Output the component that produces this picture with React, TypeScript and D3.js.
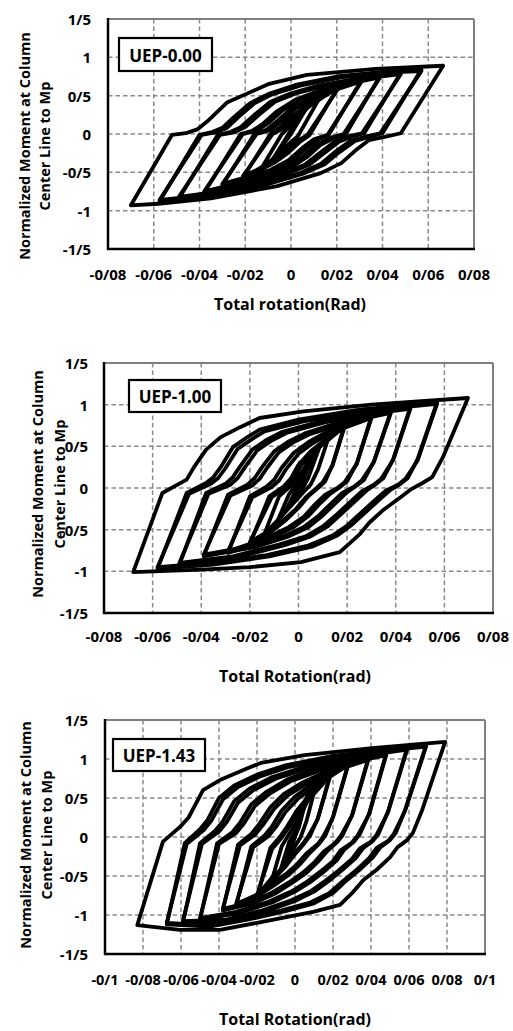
import React from 'react';
import * as d3 from 'd3';

type Pt = [number, number];

// ---------- tick values & labels ----------
const Y_TICKS = [-1.5, -1, -0.5, 0, 0.5, 1, 1.5];
const Y_LABELS = ['-1/5', '-1', '-0/5', '0', '0/5', '1', '1/5'];
const X_TICKS_A = [-0.08, -0.06, -0.04, -0.02, 0, 0.02, 0.04, 0.06, 0.08];
const X_LABELS_A = ['-0/08', '-0/06', '-0/04', '-0/02', '0', '0/02', '0/04', '0/06', '0/08'];
const X_TICKS_B = [-0.1, -0.08, -0.06, -0.04, -0.02, 0, 0.02, 0.04, 0.06, 0.08, 0.1];
const X_LABELS_B = ['-0/1', '-0/08', '-0/06', '-0/04', '-0/02', '0', '0/02', '0/04', '0/06', '0/08', '0/1'];

const SPECIMENS = ['UEP-0.00', 'UEP-1.00', 'UEP-1.43'];
const X_TITLES = ['Total rotation(Rad)', 'Total Rotation(rad)', 'Total Rotation(rad)'];
const Y_TITLE_LINES = ['Normalized Moment at Column', 'Center Line to Mp'];

// ---------- hysteresis loops (rotation, normalized moment) ----------
// Panel 1: UEP-0.00
const P1_L1: Pt[] = [[0.0665,0.89],[0.048,0.01],[0.042,-0.03],[0.034,-0.08],[0.028,-0.22],[0.022,-0.38],[0.013,-0.51],[-0.006,-0.68],[-0.035,-0.84],[-0.058,-0.91],[-0.070,-0.93],[-0.052,-0.01],[-0.046,0.01],[-0.041,0.06],[-0.036,0.18],[-0.028,0.41],[-0.019,0.53],[-0.010,0.65],[0.007,0.77],[0.037,0.85],[0.0665,0.89]];
const P1_L2: Pt[] = [[0.057,0.84],[0.040,0.01],[0.035,-0.03],[0.028,-0.09],[0.021,-0.24],[0.015,-0.39],[0.006,-0.51],[-0.012,-0.67],[-0.036,-0.81],[-0.0575,-0.88],[-0.040,-0.01],[-0.035,0.02],[-0.030,0.08],[-0.025,0.22],[-0.018,0.40],[-0.010,0.52],[0.002,0.64],[0.020,0.75],[0.040,0.81],[0.057,0.84]];
const P1_L2B: Pt[] = [[0.057,0.82],[0.039,0.01],[0.033,-0.03],[0.026,-0.09],[0.019,-0.24],[0.013,-0.39],[0.004,-0.51],[-0.014,-0.66],[-0.037,-0.80],[-0.0575,-0.86],[-0.039,-0.01],[-0.033,0.02],[-0.028,0.08],[-0.023,0.22],[-0.016,0.40],[-0.008,0.52],[0.004,0.63],[0.022,0.74],[0.041,0.80],[0.057,0.82]];
const P1_L3: Pt[] = [[0.048,0.80],[0.032,0.01],[0.027,-0.03],[0.021,-0.10],[0.014,-0.26],[0.008,-0.40],[-0.001,-0.51],[-0.016,-0.65],[-0.033,-0.77],[-0.049,-0.84],[-0.032,-0.01],[-0.027,0.02],[-0.022,0.09],[-0.016,0.25],[-0.009,0.42],[0.000,0.53],[0.012,0.63],[0.030,0.73],[0.048,0.80]];
const P1_L3B: Pt[] = [[0.048,0.78],[0.031,0.01],[0.025,-0.03],[0.019,-0.10],[0.012,-0.26],[0.006,-0.40],[-0.003,-0.51],[-0.018,-0.64],[-0.034,-0.76],[-0.049,-0.82],[-0.031,-0.01],[-0.025,0.02],[-0.020,0.09],[-0.014,0.25],[-0.007,0.42],[0.002,0.53],[0.014,0.62],[0.031,0.72],[0.048,0.78]];
const P1_L4: Pt[] = [[0.039,0.76],[0.024,0.00],[0.019,-0.05],[0.013,-0.14],[0.007,-0.30],[0.001,-0.42],[-0.007,-0.52],[-0.020,-0.64],[-0.038,-0.77],[-0.022,0.00],[-0.017,0.04],[-0.012,0.14],[-0.006,0.30],[0.002,0.45],[0.012,0.56],[0.025,0.67],[0.039,0.76]];
const P1_L4B: Pt[] = [[0.039,0.74],[0.023,0.00],[0.017,-0.05],[0.011,-0.14],[0.005,-0.30],[-0.001,-0.42],[-0.009,-0.52],[-0.022,-0.63],[-0.038,-0.75],[-0.021,0.00],[-0.015,0.04],[-0.010,0.14],[-0.004,0.30],[0.004,0.45],[0.014,0.56],[0.026,0.66],[0.039,0.74]];
const P1_L5: Pt[] = [[0.031,0.71],[0.0165,-0.01],[0.012,-0.07],[0.007,-0.18],[0.001,-0.34],[-0.007,-0.47],[-0.017,-0.57],[-0.030,-0.67],[-0.016,0.00],[-0.011,0.05],[-0.006,0.17],[0.000,0.33],[0.008,0.46],[0.018,0.58],[0.031,0.71]];
const P1_L5B: Pt[] = [[0.031,0.69],[0.016,-0.01],[0.010,-0.07],[0.005,-0.18],[-0.001,-0.34],[-0.009,-0.47],[-0.019,-0.56],[-0.030,-0.65],[-0.015,0.00],[-0.009,0.05],[-0.004,0.17],[0.002,0.33],[0.010,0.46],[0.019,0.57],[0.031,0.69]];
const P1_L6: Pt[] = [[0.021,0.63],[0.008,-0.02],[0.004,-0.10],[-0.001,-0.24],[-0.007,-0.37],[-0.014,-0.48],[-0.021,-0.57],[-0.009,0.00],[-0.005,0.08],[0.000,0.22],[0.006,0.36],[0.013,0.49],[0.021,0.63]];
const P1_L6B: Pt[] = [[0.021,0.61],[0.007,-0.02],[0.002,-0.10],[-0.003,-0.24],[-0.009,-0.37],[-0.015,-0.47],[-0.021,-0.55],[-0.008,0.00],[-0.003,0.08],[0.002,0.22],[0.008,0.36],[0.014,0.48],[0.021,0.61]];
const P1_L7: Pt[] = [[0.014,0.55],[0.003,-0.03],[-0.001,-0.13],[-0.005,-0.25],[-0.009,-0.35],[-0.013,-0.45],[-0.004,0.00],[0.000,0.11],[0.004,0.25],[0.009,0.40],[0.014,0.55]];
const P1_L8: Pt[] = [[0.009,0.45],[0.000,0.00],[-0.003,-0.12],[-0.008,-0.33],[-0.001,0.00],[0.003,0.15],[0.009,0.45]];
const P1_L9: Pt[] = [[0.005,0.30],[-0.001,0.00],[-0.005,-0.22],[0.000,0.02],[0.005,0.30]];

// Panel 2: UEP-1.00
const P2_L1: Pt[] = [[0.0697,1.08],[0.0594,0.37],[0.055,0.13],[0.051,0.06],[0.046,-0.02],[0.042,-0.11],[0.035,-0.26],[0.029,-0.42],[0.025,-0.56],[0.017,-0.77],[0.001,-0.89],[-0.020,-0.95],[-0.040,-0.98],[-0.068,-1.01],[-0.056,-0.06],[-0.046,0.10],[-0.043,0.25],[-0.038,0.46],[-0.032,0.61],[-0.024,0.73],[-0.016,0.84],[0.002,0.92],[0.030,1.00],[0.0697,1.08]];
const P2_L2: Pt[] = [[0.057,1.03],[0.049,0.35],[0.045,0.12],[0.042,0.05],[0.038,-0.02],[0.034,-0.12],[0.028,-0.28],[0.022,-0.44],[0.016,-0.57],[0.006,-0.70],[-0.012,-0.82],[-0.035,-0.92],[-0.058,-0.97],[-0.046,-0.06],[-0.038,0.06],[-0.035,0.13],[-0.032,0.25],[-0.027,0.49],[-0.021,0.61],[-0.016,0.70],[0.000,0.82],[0.025,0.94],[0.057,1.03]];
const P2_L2B: Pt[] = [[0.057,1.01],[0.049,0.33],[0.044,0.11],[0.041,0.04],[0.036,-0.03],[0.032,-0.13],[0.026,-0.29],[0.020,-0.45],[0.014,-0.57],[0.004,-0.69],[-0.014,-0.81],[-0.036,-0.90],[-0.058,-0.95],[-0.045,-0.07],[-0.036,0.05],[-0.033,0.12],[-0.030,0.24],[-0.025,0.47],[-0.019,0.59],[-0.014,0.68],[0.002,0.80],[0.026,0.92],[0.057,1.01]];
const P2_L3: Pt[] = [[0.046,0.97],[0.039,0.35],[0.035,0.12],[0.032,0.05],[0.028,-0.03],[0.024,-0.14],[0.018,-0.30],[0.012,-0.46],[0.005,-0.58],[-0.006,-0.69],[-0.025,-0.83],[-0.049,-0.92],[-0.038,-0.06],[-0.030,0.05],[-0.027,0.13],[-0.024,0.26],[-0.019,0.46],[-0.013,0.58],[-0.007,0.67],[0.008,0.79],[0.025,0.89],[0.046,0.97]];
const P2_L3B: Pt[] = [[0.046,0.95],[0.039,0.34],[0.034,0.11],[0.031,0.04],[0.026,-0.04],[0.022,-0.15],[0.016,-0.31],[0.010,-0.46],[0.003,-0.58],[-0.008,-0.68],[-0.027,-0.82],[-0.049,-0.90],[-0.037,-0.07],[-0.028,0.04],[-0.025,0.12],[-0.022,0.25],[-0.017,0.45],[-0.011,0.57],[-0.005,0.66],[0.010,0.78],[0.026,0.88],[0.046,0.95]];
const P2_L4: Pt[] = [[0.038,0.92],[0.031,0.32],[0.027,0.10],[0.024,0.03],[0.020,-0.05],[0.016,-0.16],[0.010,-0.33],[0.004,-0.47],[-0.004,-0.58],[-0.018,-0.71],[-0.039,-0.82],[-0.029,-0.08],[-0.021,0.04],[-0.018,0.12],[-0.015,0.25],[-0.010,0.44],[-0.004,0.56],[0.003,0.66],[0.018,0.80],[0.038,0.92]];
const P2_L4B: Pt[] = [[0.038,0.90],[0.031,0.31],[0.026,0.09],[0.023,0.02],[0.018,-0.06],[0.014,-0.17],[0.008,-0.34],[0.002,-0.47],[-0.006,-0.58],[-0.020,-0.70],[-0.039,-0.80],[-0.028,-0.09],[-0.019,0.03],[-0.016,0.11],[-0.013,0.24],[-0.008,0.43],[-0.002,0.55],[0.005,0.65],[0.020,0.79],[0.038,0.90]];
const P2_L5: Pt[] = [[0.030,0.86],[0.024,0.30],[0.020,0.08],[0.017,0.01],[0.013,-0.07],[0.009,-0.18],[0.004,-0.34],[-0.002,-0.47],[-0.012,-0.62],[-0.029,-0.78],[-0.020,-0.10],[-0.013,0.02],[-0.010,0.10],[-0.007,0.24],[-0.002,0.42],[0.004,0.55],[0.012,0.68],[0.030,0.86]];
const P2_L5B: Pt[] = [[0.030,0.84],[0.024,0.29],[0.019,0.07],[0.016,0.00],[0.011,-0.08],[0.007,-0.19],[0.002,-0.35],[-0.004,-0.47],[-0.014,-0.61],[-0.029,-0.76],[-0.019,-0.11],[-0.011,0.01],[-0.008,0.09],[-0.005,0.23],[0.000,0.41],[0.006,0.54],[0.014,0.67],[0.030,0.84]];
const P2_L6: Pt[] = [[0.019,0.76],[0.014,0.28],[0.011,0.08],[0.008,0.00],[0.004,-0.10],[0.000,-0.24],[-0.005,-0.38],[-0.011,-0.52],[-0.020,-0.67],[-0.012,-0.10],[-0.006,0.02],[-0.003,0.12],[0.000,0.28],[0.005,0.44],[0.011,0.58],[0.019,0.76]];
const P2_L6B: Pt[] = [[0.019,0.74],[0.014,0.27],[0.010,0.07],[0.007,-0.01],[0.003,-0.11],[-0.001,-0.25],[-0.006,-0.38],[-0.012,-0.51],[-0.020,-0.65],[-0.011,-0.11],[-0.005,0.01],[-0.002,0.11],[0.001,0.27],[0.006,0.43],[0.012,0.57],[0.019,0.74]];
const P2_L7: Pt[] = [[0.013,0.66],[0.008,0.22],[0.005,0.04],[0.002,-0.05],[-0.002,-0.18],[-0.007,-0.34],[-0.014,-0.55],[-0.008,-0.10],[-0.003,0.03],[0.001,0.18],[0.005,0.36],[0.009,0.50],[0.013,0.66]];
const P2_L8: Pt[] = [[0.009,0.52],[0.004,0.12],[0.001,-0.04],[-0.004,-0.22],[-0.009,-0.42],[-0.004,-0.08],[0.000,0.08],[0.004,0.25],[0.009,0.52]];
const P2_L9: Pt[] = [[0.005,0.34],[0.001,0.00],[-0.005,-0.26],[-0.001,-0.02],[0.005,0.34]];

// Panel 3: UEP-1.43
const P3_L1: Pt[] = [[0.079,1.22],[0.067,0.35],[0.062,0.05],[0.059,-0.04],[0.054,-0.13],[0.050,-0.26],[0.043,-0.42],[0.036,-0.55],[0.030,-0.72],[0.0237,-0.87],[0.0095,-0.96],[-0.020,-1.10],[-0.0395,-1.19],[-0.0605,-1.19],[-0.083,-1.13],[-0.0695,-0.06],[-0.0605,0.13],[-0.056,0.25],[-0.0484,0.60],[-0.0395,0.73],[-0.025,0.88],[-0.018,0.95],[0.005,1.05],[0.0405,1.14],[0.079,1.22]];
const P3_L2: Pt[] = [[0.069,1.18],[0.058,0.35],[0.053,0.05],[0.050,-0.04],[0.045,-0.13],[0.041,-0.26],[0.034,-0.42],[0.027,-0.56],[0.020,-0.72],[0.010,-0.85],[-0.005,-0.95],[-0.025,-1.06],[-0.045,-1.15],[-0.0675,-1.12],[-0.058,-0.08],[-0.050,0.10],[-0.046,0.22],[-0.040,0.50],[-0.032,0.66],[-0.020,0.80],[-0.005,0.92],[0.020,1.04],[0.045,1.12],[0.069,1.18]];
const P3_L2B: Pt[] = [[0.069,1.16],[0.058,0.34],[0.052,0.04],[0.049,-0.05],[0.043,-0.14],[0.039,-0.27],[0.032,-0.43],[0.025,-0.57],[0.018,-0.72],[0.008,-0.84],[-0.007,-0.94],[-0.027,-1.05],[-0.046,-1.13],[-0.0675,-1.10],[-0.057,-0.09],[-0.048,0.09],[-0.044,0.21],[-0.038,0.48],[-0.030,0.64],[-0.018,0.78],[-0.003,0.90],[0.022,1.02],[0.046,1.10],[0.069,1.16]];
const P3_L3: Pt[] = [[0.059,1.14],[0.049,0.33],[0.044,0.04],[0.041,-0.05],[0.036,-0.14],[0.032,-0.27],[0.025,-0.42],[0.018,-0.56],[0.010,-0.70],[0.000,-0.82],[-0.015,-0.95],[-0.035,-1.08],[-0.059,-1.10],[-0.050,-0.08],[-0.042,0.08],[-0.038,0.20],[-0.032,0.46],[-0.024,0.62],[-0.012,0.77],[0.005,0.90],[0.030,1.04],[0.059,1.14]];
const P3_L3B: Pt[] = [[0.059,1.12],[0.049,0.32],[0.043,0.03],[0.040,-0.06],[0.034,-0.15],[0.030,-0.28],[0.023,-0.43],[0.016,-0.56],[0.008,-0.70],[-0.002,-0.81],[-0.017,-0.94],[-0.036,-1.06],[-0.059,-1.08],[-0.049,-0.09],[-0.040,0.07],[-0.036,0.19],[-0.030,0.44],[-0.022,0.60],[-0.010,0.75],[0.007,0.88],[0.031,1.02],[0.059,1.12]];
const P3_L4: Pt[] = [[0.048,1.07],[0.039,0.30],[0.034,0.03],[0.031,-0.06],[0.026,-0.16],[0.022,-0.30],[0.015,-0.45],[0.008,-0.58],[0.000,-0.70],[-0.012,-0.84],[-0.030,-0.98],[-0.050,-1.06],[-0.041,-0.08],[-0.033,0.06],[-0.029,0.18],[-0.023,0.42],[-0.015,0.58],[-0.004,0.74],[0.012,0.88],[0.030,0.98],[0.048,1.07]];
const P3_L4B: Pt[] = [[0.048,1.05],[0.039,0.29],[0.033,0.02],[0.030,-0.07],[0.024,-0.17],[0.020,-0.31],[0.013,-0.45],[0.006,-0.58],[-0.002,-0.70],[-0.014,-0.83],[-0.031,-0.96],[-0.050,-1.04],[-0.040,-0.09],[-0.031,0.05],[-0.027,0.17],[-0.021,0.40],[-0.013,0.56],[-0.002,0.72],[0.014,0.86],[0.031,0.96],[0.048,1.05]];
const P3_L5: Pt[] = [[0.0386,1.01],[0.030,0.28],[0.025,0.02],[0.022,-0.07],[0.017,-0.18],[0.012,-0.32],[0.006,-0.46],[-0.001,-0.58],[-0.010,-0.72],[-0.022,-0.85],[-0.038,-0.94],[-0.030,-0.10],[-0.023,0.04],[-0.019,0.16],[-0.013,0.38],[-0.006,0.55],[0.004,0.70],[0.018,0.86],[0.0386,1.01]];
const P3_L5B: Pt[] = [[0.0386,0.99],[0.030,0.27],[0.024,0.01],[0.021,-0.08],[0.015,-0.19],[0.010,-0.33],[0.004,-0.46],[-0.003,-0.58],[-0.012,-0.71],[-0.024,-0.84],[-0.038,-0.92],[-0.029,-0.11],[-0.021,0.03],[-0.017,0.15],[-0.011,0.36],[-0.004,0.53],[0.006,0.68],[0.020,0.84],[0.0386,0.99]];
const P3_L6: Pt[] = [[0.028,0.94],[0.020,0.26],[0.016,0.02],[0.013,-0.08],[0.008,-0.20],[0.003,-0.34],[-0.003,-0.48],[-0.011,-0.62],[-0.020,-0.76],[-0.031,-0.88],[-0.023,-0.12],[-0.016,0.02],[-0.012,0.14],[-0.007,0.34],[0.000,0.52],[0.009,0.68],[0.028,0.94]];
const P3_L6B: Pt[] = [[0.028,0.92],[0.020,0.25],[0.015,0.01],[0.012,-0.09],[0.006,-0.21],[0.001,-0.35],[-0.005,-0.48],[-0.013,-0.61],[-0.021,-0.75],[-0.031,-0.86],[-0.022,-0.13],[-0.014,0.01],[-0.010,0.13],[-0.005,0.32],[0.002,0.50],[0.011,0.66],[0.028,0.92]];
const P3_L7: Pt[] = [[0.019,0.84],[0.012,0.24],[0.008,0.02],[0.005,-0.08],[0.000,-0.22],[-0.005,-0.38],[-0.011,-0.53],[-0.020,-0.77],[-0.013,-0.14],[-0.008,0.00],[-0.004,0.14],[0.001,0.34],[0.007,0.52],[0.013,0.68],[0.019,0.84]];
const P3_L7B: Pt[] = [[0.019,0.82],[0.012,0.23],[0.007,0.01],[0.004,-0.09],[-0.001,-0.23],[-0.006,-0.38],[-0.012,-0.52],[-0.020,-0.75],[-0.012,-0.15],[-0.007,-0.01],[-0.003,0.13],[0.002,0.32],[0.008,0.50],[0.014,0.66],[0.019,0.82]];
const P3_L8: Pt[] = [[0.012,0.76],[0.006,0.20],[0.003,0.00],[-0.001,-0.16],[-0.006,-0.36],[-0.013,-0.62],[-0.007,-0.12],[-0.003,0.04],[0.002,0.24],[0.007,0.48],[0.012,0.76]];
const P3_L9: Pt[] = [[0.007,0.58],[0.002,0.12],[-0.002,-0.10],[-0.008,-0.45],[-0.003,-0.06],[0.001,0.12],[0.007,0.58]];
const P3_L10: Pt[] = [[0.004,0.36],[0.000,0.00],[-0.004,-0.26],[0.000,0.00],[0.004,0.36]];

const PANEL1_LOOPS = [P1_L1, P1_L2, P1_L2B, P1_L3, P1_L3B, P1_L4, P1_L4B, P1_L5, P1_L5B, P1_L6, P1_L6B, P1_L7, P1_L8, P1_L9];
const PANEL2_LOOPS = [P2_L1, P2_L2, P2_L2B, P2_L3, P2_L3B, P2_L4, P2_L4B, P2_L5, P2_L5B, P2_L6, P2_L6B, P2_L7, P2_L8, P2_L9];
const PANEL3_LOOPS = [P3_L1, P3_L2, P3_L2B, P3_L3, P3_L3B, P3_L4, P3_L4B, P3_L5, P3_L5B, P3_L6, P3_L6B, P3_L7, P3_L7B, P3_L8, P3_L9, P3_L10];

// ---------- layout ----------
const LAYOUTS = [
  { left: 108, right: 474, top: 19, bottom: 249, xDomain: [-0.08, 0.08], xTicks: X_TICKS_A, xLabels: X_LABELS_A,
    legend: { x: 119, y: 38, w: 93, h: 33 }, xTickY: 274, xTitle: { x: 290, y: 304 }, yTickRight: 91,
    yTitle: { y: 146, x1: 24, x2: 44 }, loops: PANEL1_LOOPS },
  { left: 104, right: 493, top: 363, bottom: 613, xDomain: [-0.08, 0.08], xTicks: X_TICKS_A, xLabels: X_LABELS_A,
    legend: { x: 129, y: 380, w: 92, h: 32 }, xTickY: 636, xTitle: { x: 295, y: 676 }, yTickRight: 88,
    yTitle: { y: 484, x1: 37, x2: 59 }, loops: PANEL2_LOOPS },
  { left: 105, right: 485, top: 720, bottom: 954, xDomain: [-0.1, 0.1], xTicks: X_TICKS_B, xLabels: X_LABELS_B,
    legend: { x: 113, y: 739, w: 92, h: 32 }, xTickY: 979, xTitle: { x: 295, y: 1019 }, yTickRight: 88,
    yTitle: { y: 835, x1: 25, x2: 46 }, loops: PANEL3_LOOPS },
];

const FONT = "'Open Sans', 'DejaVu Sans', sans-serif";

function Panel({ idx }: { idx: number }) {
  const L = LAYOUTS[idx];
  const xs = d3.scaleLinear().domain(L.xDomain).range([L.left, L.right]);
  const ys = d3.scaleLinear().domain([-1.5, 1.5]).range([L.bottom, L.top]);
  const line = d3.line<Pt>().x(d => xs(d[0])).y(d => ys(d[1]));
  const innerX = L.xTicks.slice(1, -1);
  const innerY = Y_TICKS.slice(1, -1);
  const tickSize = idx === 2 ? 14.5 : 15;
  return (
    <g>
      {innerX.map((t, i) => (
        <line key={'gx' + i} x1={xs(t)} x2={xs(t)} y1={L.top} y2={L.bottom}
          stroke="#8a8a8a" strokeWidth={1.5} strokeDasharray="4.5,3" />
      ))}
      {innerY.map((t, i) => (
        <line key={'gy' + i} x1={L.left} x2={L.right} y1={ys(t)} y2={ys(t)}
          stroke="#8a8a8a" strokeWidth={1.5} strokeDasharray="4.5,3" />
      ))}
      <line x1={L.left} x2={L.right} y1={L.top} y2={L.top} stroke="#7f7f7f" strokeWidth={2} />
      <line x1={L.right} x2={L.right} y1={L.top} y2={L.bottom} stroke="#7f7f7f" strokeWidth={2} />
      {L.loops.map((lp, i) => (
        <path key={'lp' + i} d={line(lp) || ''} fill="none" stroke="#000" strokeWidth={3.8}
          strokeLinejoin="round" strokeLinecap="round" />
      ))}
      <line x1={L.left} x2={L.left} y1={L.top - 1} y2={L.bottom + 1} stroke="#000" strokeWidth={2.5} />
      <line x1={L.left - 1} x2={L.right + 1} y1={L.bottom} y2={L.bottom} stroke="#000" strokeWidth={2.5} />
      <rect x={L.legend.x} y={L.legend.y} width={L.legend.w} height={L.legend.h} fill="#fff" stroke="#000" strokeWidth={2.2} />
      <text x={L.legend.x + L.legend.w / 2} y={L.legend.y + L.legend.h / 2 + 0.5} textAnchor="middle" dominantBaseline="central"
        fontFamily={FONT} fontWeight="bold" fontSize={17}>{SPECIMENS[idx]}</text>
      {Y_TICKS.map((t, i) => (
        <text key={'yl' + i} x={L.yTickRight} y={ys(t)} textAnchor="end" dominantBaseline="central"
          fontFamily={FONT} fontWeight="bold" fontSize={15}>{Y_LABELS[i]}</text>
      ))}
      {L.xTicks.map((t, i) => (
        <text key={'xl' + i} x={xs(t)} y={L.xTickY} textAnchor="middle" dominantBaseline="central"
          fontFamily={FONT} fontWeight="bold" fontSize={tickSize}>{L.xLabels[i]}</text>
      ))}
      <text x={L.xTitle.x} y={L.xTitle.y} textAnchor="middle" dominantBaseline="central"
        fontFamily={FONT} fontWeight="bold" fontSize={16}>{X_TITLES[idx]}</text>
      <text transform={`translate(${L.yTitle.x1},${L.yTitle.y}) rotate(-90)`} textAnchor="middle" dominantBaseline="central"
        fontFamily={FONT} fontWeight="bold" fontSize={14.5}>{Y_TITLE_LINES[0]}</text>
      <text transform={`translate(${L.yTitle.x2},${L.yTitle.y}) rotate(-90)`} textAnchor="middle" dominantBaseline="central"
        fontFamily={FONT} fontWeight="bold" fontSize={14.5}>{Y_TITLE_LINES[1]}</text>
    </g>
  );
}

export default function App() {
  return (
    <svg width={513} height={1031} style={{ position: 'absolute', left: 0, top: 0, background: '#fff' }}>
      <rect x={0} y={0} width={513} height={1031} fill="#fff" />
      <Panel idx={0} />
      <Panel idx={1} />
      <Panel idx={2} />
    </svg>
  );
}
